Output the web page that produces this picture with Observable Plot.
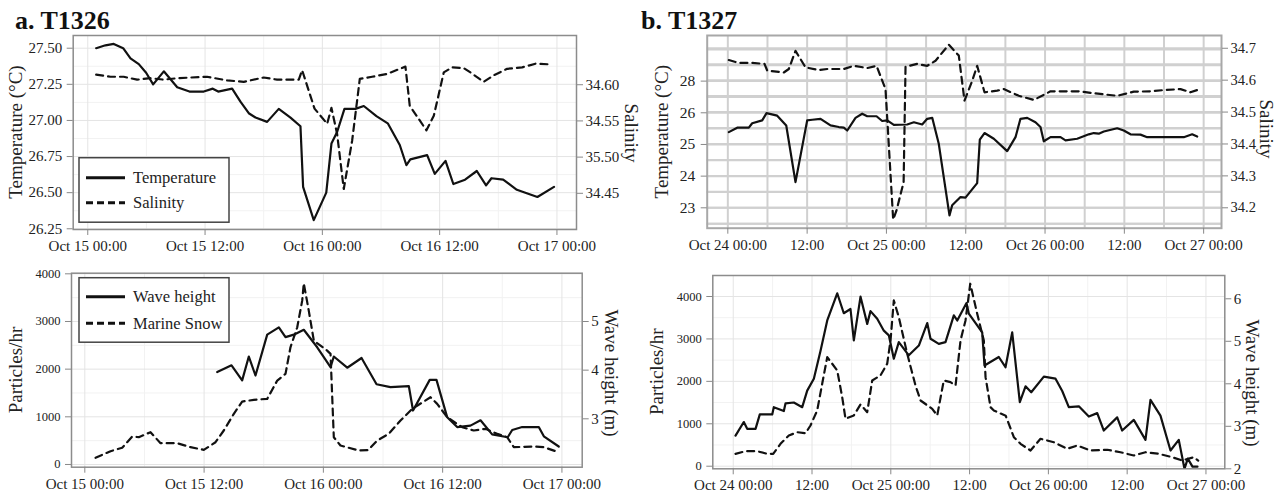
<!DOCTYPE html>
<html><head><meta charset="utf-8">
<script src="https://cdn.jsdelivr.net/npm/d3@7"></script>
<script src="https://cdn.jsdelivr.net/npm/@observablehq/plot@0.6"></script>
<style>
body{margin:0;background:#fff;}
#chart{position:relative;width:1286px;height:495px;overflow:hidden;background:#fff;font-family:"Liberation Serif",serif;}
#chart svg{position:absolute;left:0;top:0;}
</style></head><body><div id="chart"></div>
<script>
// ---------- DATA (hours from start of day, value) ----------
// Panel a (T1326): hours from Oct 15 00:00
const aTemperature = [[0.86,27.50],[1.81,27.52],[2.66,27.53],[3.62,27.50],[4.37,27.43],[5.22,27.39],[5.97,27.33],[6.69,27.25],[7.78,27.34],[9.15,27.23],[10.4,27.20],[11.87,27.20],[12.79,27.22],[13.34,27.20],[14.77,27.22],[15.62,27.13],[16.47,27.05],[17.16,27.02],[18.35,26.99],[19.54,27.08],[20.74,27.02],[21.76,26.96],[22.03,26.54],[23.12,26.31],[24.4,26.50],[24.93,26.84],[25.51,26.92],[26.26,27.08],[27.38,27.08],[28.24,27.10],[29.53,27.03],[30.69,26.98],[31.92,26.83],[32.6,26.69],[33.0,26.73],[34.72,26.76],[35.5,26.63],[36.6,26.72],[37.4,26.56],[38.6,26.59],[39.8,26.65],[40.75,26.55],[41.3,26.60],[42.5,26.59],[43.9,26.52],[46.0,26.47],[47.7,26.54]];
const aSalinity = [[0.86,34.614],[2.32,34.611],[3.68,34.611],[5.05,34.607],[6.41,34.609],[7.78,34.607],[9.15,34.609],[12.2,34.611],[14.26,34.606],[15.96,34.604],[18.0,34.610],[19.37,34.607],[21.59,34.607],[21.93,34.620],[23.2,34.567],[24.49,34.546],[24.93,34.568],[25.51,34.532],[26.19,34.456],[27.05,34.523],[27.83,34.608],[29.09,34.611],[30.63,34.615],[32.5,34.625],[32.94,34.571],[34.65,34.537],[35.4,34.557],[36.42,34.617],[37.28,34.624],[38.46,34.623],[39.15,34.617],[40.51,34.604],[41.53,34.613],[42.9,34.622],[44.44,34.624],[45.8,34.629],[47.5,34.628]];
const aWaveHeight = [[13.32,3.96],[14.76,4.10],[15.83,3.79],[16.5,4.28],[17.17,3.89],[18.35,4.73],[19.52,4.88],[20.19,4.68],[21.03,4.73],[22.03,4.83],[23.38,4.47],[24.72,4.06],[25.05,4.28],[26.4,4.05],[27.84,4.25],[29.35,3.71],[30.75,3.65],[32.6,3.67],[33.02,3.17],[34.7,3.80],[35.38,3.80],[36.46,3.03],[37.46,2.83],[38.8,2.86],[39.81,2.97],[40.98,2.68],[42.55,2.62],[43.0,2.77],[44.0,2.83],[45.67,2.83],[46.18,2.64],[47.68,2.43]];
const aMarineSnow = [[1.08,140],[2.59,279],[3.76,350],[4.77,587],[5.43,572],[6.61,677],[7.62,446],[9.3,446],[10.63,363],[11.97,308],[13.15,467],[13.98,713],[14.99,1063],[15.83,1320],[17.0,1356],[18.35,1377],[19.36,1761],[20.19,1901],[20.69,2459],[21.37,2878],[21.87,3437],[22.03,3800],[22.53,3228],[23.04,2599],[24.38,2389],[24.72,2320],[25.05,572],[25.72,398],[27.56,293],[28.5,300],[29.4,500],[30.58,643],[31.76,922],[32.94,1167],[34.78,1411],[35.45,1272],[36.46,991],[37.97,782],[39.13,713],[40.31,748],[41.49,643],[42.49,572],[43.16,363],[45.17,377],[46.18,363],[47.45,272]];

// Panel b (T1327): hours from Oct 24 00:00
const bTemperature = [[0.15,25.39],[1.42,25.53],[3.18,25.53],[3.69,25.67],[5.2,25.76],[5.86,25.99],[7.47,25.91],[8.84,25.60],[10.24,23.81],[12.01,25.76],[12.77,25.78],[14.03,25.81],[15.54,25.60],[16.8,25.55],[17.55,25.53],[18.07,25.44],[19.32,25.84],[20.33,25.97],[21.09,25.89],[22.5,25.89],[23.36,25.74],[24.12,25.76],[25.12,25.62],[27.14,25.63],[28.15,25.70],[29.41,25.63],[30.17,25.81],[30.93,25.84],[31.92,25.02],[33.54,22.76],[33.95,23.08],[35.21,23.34],[35.96,23.32],[37.73,23.78],[38.13,25.15],[38.84,25.36],[40.25,25.18],[42.27,24.79],[43.53,25.23],[44.28,25.81],[45.3,25.84],[46.55,25.70],[47.31,25.55],[47.81,25.10],[48.83,25.23],[50.34,25.23],[51.1,25.13],[52.86,25.18],[54.62,25.32],[55.38,25.36],[56.13,25.34],[56.89,25.41],[58.92,25.51],[59.91,25.44],[60.93,25.32],[62.44,25.31],[63.46,25.23],[66.48,25.23],[68.99,25.23],[70.26,25.32],[71.02,25.25]];
const bSalinity = [[0.15,34.663],[1.66,34.654],[3.69,34.654],[5.55,34.651],[5.96,34.630],[8.47,34.624],[9.23,34.635],[10.24,34.692],[11.76,34.640],[13.77,34.632],[15.04,34.635],[17.55,34.635],[19.06,34.645],[21.09,34.638],[22.5,34.645],[23.86,34.572],[25.02,34.163],[25.5,34.19],[26.6,34.28],[26.89,34.642],[28.66,34.651],[30.17,34.645],[31.43,34.661],[33.44,34.711],[34.95,34.677],[35.81,34.536],[36.98,34.598],[37.73,34.645],[38.84,34.562],[40.76,34.567],[41.76,34.572],[44.03,34.551],[46.3,34.538],[48.83,34.565],[50.84,34.565],[53.11,34.565],[55.38,34.559],[58.92,34.551],[61.43,34.564],[63.96,34.565],[65.97,34.569],[68.5,34.572],[70.0,34.562],[71.02,34.569]];
const bWaveHeight = [[0.35,2.78],[1.61,3.10],[2.13,2.94],[3.4,2.94],[4.05,3.28],[5.94,3.28],[6.18,3.45],[7.71,3.36],[7.97,3.54],[9.23,3.56],[10.51,3.45],[11.27,3.84],[12.28,4.12],[13.3,4.78],[14.32,5.49],[15.84,6.13],[16.84,5.66],[17.86,5.76],[18.37,5.02],[19.39,6.05],[20.41,5.41],[20.91,5.71],[21.93,5.53],[22.94,5.25],[23.7,5.14],[24.46,4.59],[25.22,4.98],[26.74,4.67],[28.27,4.90],[29.55,5.43],[30.05,5.06],[31.31,4.94],[32.33,4.98],[33.6,5.61],[34.12,5.49],[35.53,5.90],[35.88,5.65],[37.92,5.21],[38.27,4.43],[40.45,4.63],[41.47,4.39],[42.49,5.21],[43.65,3.57],[44.52,3.94],[45.39,3.80],[47.31,4.17],[49.09,4.12],[50.11,3.83],[51.11,3.45],[52.64,3.47],[54.16,3.23],[55.44,3.31],[56.44,2.90],[58.48,3.21],[59.24,2.90],[61.01,3.15],[62.79,2.68],[63.55,3.62],[65.07,3.25],[66.6,2.43],[67.86,2.68],[68.73,2.0],[69.23,2.24],[69.95,2.05],[70.71,2.05]];
const bMarineSnow = [[0.35,292],[1.87,354],[3.65,354],[5.18,292],[6.09,292],[7.2,528],[8.47,724],[9.75,802],[11.01,778],[11.77,960],[12.79,1313],[13.55,1943],[14.32,2570],[15.84,2257],[16.6,1627],[17.1,1118],[18.37,1196],[19.39,1455],[20.41,1273],[21.17,2021],[22.43,2139],[23.45,2415],[23.96,2964],[24.46,3907],[25.22,3513],[26.5,2650],[27.76,1903],[28.53,1549],[30.31,1353],[31.07,1196],[32.07,2021],[33.09,1981],[33.86,1903],[34.62,2964],[35.38,3436],[36.1,4301],[37.16,3594],[38.17,2964],[38.43,2099],[39.19,1391],[39.69,1313],[41.5,1190],[42.74,684],[43.76,528],[45.28,370],[46.8,646],[48.83,566],[50.87,410],[52.39,488],[54.42,370],[56.96,387],[58.98,330],[61.01,252],[62.79,330],[64.82,292],[66.86,212],[68.38,134],[70.15,212],[70.82,134]];

// ---------- TICKS & LABELS ----------
const aTimeTicks = [0, 12, 24, 36, 48];
const aTimeLabels = ["Oct 15 00:00", "Oct 15 12:00", "Oct 16 00:00", "Oct 16 12:00", "Oct 17 00:00"];
const bTimeTicks = [0, 12, 24, 36, 48, 60, 72];
const bTimeLabels = ["Oct 24 00:00", "12:00", "Oct 25 00:00", "12:00", "Oct 26 00:00", "12:00", "Oct 27 00:00"];
const aTempTicks = [26.25, 26.5, 26.75, 27.0, 27.25, 27.5];
const aTempLabels = ["26.25", "26.50", "26.75", "27.00", "27.25", "27.50"];
const aSalTicks = [34.45, 34.5, 34.55, 34.6];
const aSalLabels = ["34.45", "35.50", "34.55", "34.60"];
const bTempTicks = [23, 24, 25, 26, 27];
const bTempLabels = ["23", "24", "25", "26", "28"];
const bSalTicks = [34.2, 34.3, 34.4, 34.5, 34.6, 34.7];
const bSalLabels = ["34.2", "34.3", "34.4", "34.5", "34.6", "34.7"];
const particleTicks = [0, 1000, 2000, 3000, 4000];
const particleLabels = ["0", "1000", "2000", "3000", "4000"];
const aWaveTicks = [3, 4, 5];
const aWaveLabels = ["3", "4", "5"];
const bWaveTicks = [2, 3, 4, 5, 6];
const bWaveLabels = ["2", "3", "4", "5", "6"];

// ---------- LAYOUT ----------
const W = 1286, H = 495;
const FONT = '"Liberation Serif", "Times New Roman", serif';
const INK = "#222", TICK = "#888", LINE = "#111";

function fmt(ticks, labels) {
  return d => { const i = ticks.findIndex(t => Math.abs(t - d) < 1e-9); return i < 0 ? "" : labels[i]; };
}
function layer(fr, xDomain, yDomain, marks) {
  return Plot.plot({
    width: W, height: H,
    marginLeft: fr.left, marginRight: W - fr.right, marginTop: fr.top, marginBottom: H - fr.bottom,
    x: {type: "linear", domain: xDomain, axis: null},
    y: {type: "linear", domain: yDomain, axis: null},
    style: {background: "transparent", fontFamily: FONT, fontSize: "15px", color: INK, overflow: "visible"},
    marks
  });
}
const solid = (data) => Plot.line(data, {x: d => d[0], y: d => d[1], stroke: LINE, strokeWidth: 2.2, clip: true});
const dashed = (data) => Plot.line(data, {x: d => d[0], y: d => d[1], stroke: LINE, strokeWidth: 2.2, strokeDasharray: "7,5", clip: true});
const grid = (dim, ticks, stroke, width) => (dim === "x" ? Plot.gridX : Plot.gridY)({ticks, stroke, strokeOpacity: 1, strokeWidth: width});
const axisX = (ticks, labels) => Plot.axisX({ticks, tickFormat: fmt(ticks, labels), tickSize: 6, tickPadding: 5, stroke: TICK, color: INK, label: null, fontSize: 15});
const axisYL = (ticks, labels, fs, pad) => Plot.axisY({anchor: "left", ticks, tickFormat: fmt(ticks, labels), tickSize: 6, tickPadding: pad, stroke: TICK, color: INK, label: null, fontSize: fs});
const axisYR = (ticks, labels, fs) => Plot.axisY({anchor: "right", ticks, tickFormat: fmt(ticks, labels), tickSize: 6, tickPadding: 3, stroke: TICK, color: INK, label: null, fontSize: fs});
const frameMark = (w, c) => Plot.frame({stroke: c, strokeWidth: w});

const chart = document.getElementById("chart");
const add = (svg) => chart.appendChild(svg);

// Panel a top
const fAT = {left: 72.7, top: 35, right: 576, bottom: 229};
const xAT = [-1.49, 50.0];
add(layer(fAT, xAT, [26.245, 27.588], [
  grid("x", d3.range(6, 48, 12), "#f2f2f2", 1),
  grid("y", d3.range(26.375, 27.6, 0.25), "#f2f2f2", 1),
  grid("x", aTimeTicks, "#e4e4e4", 1),
  grid("y", aTempTicks, "#e4e4e4", 1),
  frameMark(1.5, "#8c8c8c"),
  axisX(aTimeTicks, aTimeLabels),
  axisYL(aTempTicks, aTempLabels, 15, 5),
  solid(aTemperature)
]));
add(layer(fAT, xAT, [34.40, 34.668], [
  axisYR(aSalTicks, aSalLabels, 15),
  dashed(aSalinity)
]));

// Panel a bottom
const fAB = {left: 71, top: 272.7, right: 581.7, bottom: 466.7};
const xAB = [-1.34, 50.04];
add(layer(fAB, xAB, [-57, 4013], [
  grid("x", d3.range(6, 48, 12), "#f2f2f2", 1),
  grid("y", d3.range(500, 4000, 1000), "#f2f2f2", 1),
  grid("x", aTimeTicks, "#e4e4e4", 1),
  grid("y", particleTicks, "#e4e4e4", 1),
  frameMark(1.5, "#8c8c8c"),
  axisX(aTimeTicks, aTimeLabels),
  axisYL(particleTicks, particleLabels, 12.5, 5),
  dashed(aMarineSnow)
]));
add(layer(fAB, xAB, [2.005, 5.993], [
  axisYR(aWaveTicks, aWaveLabels, 15),
  solid(aWaveHeight)
]));

// Panel b top (heavy doubled grid from both scales)
const fBT = {left: 706.7, top: 35, right: 1221, bottom: 227.7};
const xBT = [-3.12, 74.7];
add(layer(fBT, xBT, [34.136, 34.740], [
  grid("y", d3.range(34.15, 34.74, 0.05), "#d0d0d0", 2)
]));
add(layer(fBT, xBT, [22.356, 28.44], [
  grid("x", d3.range(0, 74, 6), "#d0d0d0", 2),
  grid("y", d3.range(22.5, 28.4, 0.5), "#d0d0d0", 2),
  frameMark(2, "#a8a8a8"),
  axisX(bTimeTicks, bTimeLabels),
  axisYL(bTempTicks, bTempLabels, 15.5, 6),
  solid(bTemperature)
]));
add(layer(fBT, xBT, [34.136, 34.740], [
  axisYR(bSalTicks, bSalLabels, 14.5),
  dashed(bSalinity)
]));

// Panel b bottom
const fBB = {left: 712.3, top: 275, right: 1224.3, bottom: 468.3};
const xBB = [-3.11, 74.87];
add(layer(fBB, xBB, [-61, 4495], [
  grid("x", d3.range(6, 74, 12), "#f2f2f2", 1),
  grid("y", d3.range(500, 4500, 1000), "#f2f2f2", 1),
  grid("x", bTimeTicks, "#e4e4e4", 1),
  grid("y", particleTicks, "#e4e4e4", 1),
  frameMark(1.5, "#8c8c8c"),
  axisX(bTimeTicks, bTimeLabels),
  axisYL(particleTicks, particleLabels, 12.5, 5),
  dashed(bMarineSnow)
]));
add(layer(fBB, xBB, [2.0, 6.548], [
  axisYR(bWaveTicks, bWaveLabels, 15),
  solid(bWaveHeight)
]));

// ---------- Titles, axis titles, legends ----------
const NS = "http://www.w3.org/2000/svg";
const ov = document.createElementNS(NS, "svg");
ov.setAttribute("width", W); ov.setAttribute("height", H);
ov.style.fontFamily = FONT;
chart.appendChild(ov);
function el(tag, attrs, text) {
  const e = document.createElementNS(NS, tag);
  for (const k in attrs) e.setAttribute(k, attrs[k]);
  if (text != null) e.textContent = text;
  ov.appendChild(e);
  return e;
}
const titles = [["a. T1326", 15, 29], ["b. T1327", 641, 29]];
titles.forEach(([t, x, y]) => el("text", {x, y, "font-size": 26, "font-weight": "bold", fill: "#111"}, t));

const axisTitles = [
  ["Temperature (°C)", 15, 132, -90],
  ["Particles/hr", 15.7, 370, -90],
  ["Temperature (°C)", 661.7, 131.7, -90],
  ["Particles/hr", 656.7, 371.7, -90],
  ["Salinity", 632, 133, 90],
  ["Wave height (m)", 612, 373, 90],
  ["Salinity", 1267, 129, 90],
  ["Wave height (m)", 1253, 383, 90]
];
axisTitles.forEach(([t, x, y, r]) => el("text", {transform: `translate(${x},${y}) rotate(${r})`, "text-anchor": "middle", dy: "0.35em", "font-size": 19, fill: INK}, t));

const legends = [
  {x: 79, y: 157.7, items: [["Temperature", false, 177.7], ["Salinity", true, 202.7]]},
  {x: 79, y: 277.7, items: [["Wave height", false, 296.7], ["Marine Snow", true, 323.3]]}
];
legends.forEach(lg => {
  el("rect", {x: lg.x, y: lg.y, width: 150, height: 64.5, fill: "#fff", stroke: "#444", "stroke-width": 1.5});
  lg.items.forEach(([t, dash, y]) => {
    el("line", {x1: lg.x + 7, x2: lg.x + 46, y1: y, y2: y, stroke: LINE, "stroke-width": 3, "stroke-dasharray": dash ? "7,4" : "none"});
    el("text", {x: lg.x + 54, y: y + 5.5, "font-size": 16.5, fill: INK}, t);
  });
});
</script></body></html>
